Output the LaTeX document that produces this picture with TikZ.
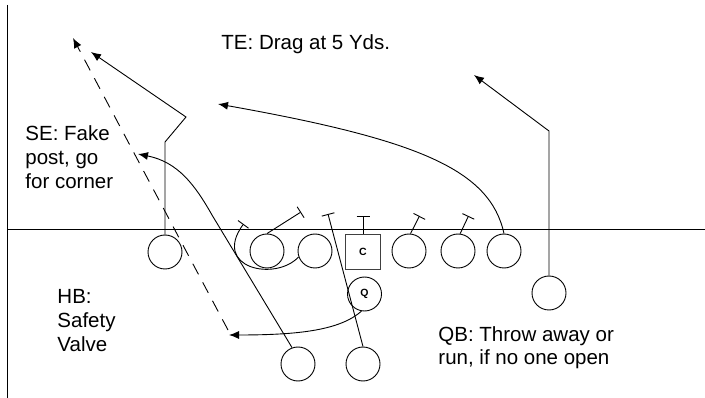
\documentclass[tikz,border=0pt]{standalone}
\usepackage{fontspec}
\setmainfont{Liberation Sans}
\usetikzlibrary{arrows.meta}
\begin{document}
\begin{tikzpicture}[x=1pt,y=-1pt,
  line width=0.9pt,
  player/.style={circle,draw,minimum size=34pt,inner sep=0pt},
  center/.style={rectangle,draw=black!75,minimum size=35pt,inner sep=0pt,font=\fontsize{10.5}{12}\selectfont\bfseries},
  qback/.style={circle,draw,minimum size=34pt,inner sep=0pt,font=\fontsize{10.5}{12}\selectfont\bfseries},
  label/.style={anchor=base west,inner sep=0pt,align=left,font=\fontsize{20.5}{24}\selectfont},
  route/.style={-{Latex[length=10pt,width=8pt]}},
  block/.style={-{Bar[width=13pt]}},
  pass/.style={route,dash pattern=on 12pt off 9pt}]
\useasboundingbox (0,0) rectangle (705,398);
% field lines
\draw (7,5) -- (7,398);
\draw (7,229) -- (705,229);
% players
\node[player] (p1) at (165,252) {};
\node[player] (p2) at (267,251) {};
\node[player] (p3) at (315,251) {};
\node[center] (c) at (363,252) {C};
\node[player] (p4) at (409,251) {};
\node[player] (p5) at (458,251) {};
\node[player] (p6) at (504,251) {};
\node[qback] (q) at (364.5,294) {Q};
\node[player] (b1) at (298,364) {};
\node[player] (b2) at (363,364) {};
\node[player] (fl) at (549,293) {};
% route end points
\coordinate (seA) at (165,142);
\coordinate (seB) at (186,117);
\coordinate (seT) at (91,52);
\coordinate (dS) at (228,330);
\coordinate (dT) at (73,38);
\coordinate (b1A) at (212,215);
\coordinate (b1T) at (138,154);
\coordinate (b2T) at (328,214);
\coordinate (teT) at (218,104);
\coordinate (flA) at (549,131);
\coordinate (flT) at (474,75);
\coordinate (qT) at (229,335);
\coordinate (p2T) at (301,212);
\coordinate (p3T) at (243.5,224);
\coordinate (cT) at (363,216);
\coordinate (p4T) at (419.5,216);
\coordinate (p5T) at (468.5,216);
% routes
\draw[route] (p1.north) -- (seA) -- (seB) -- (seT);
\draw[pass] (dS) -- (dT);
\draw[route] (b1.110) -- (b1A) .. controls (195,185) and (178,162) .. (b1T);
\draw[block] (b2.north) -- (b2T);
\draw[route] (p6.north) .. controls (490,170) and (420,140) .. (teT);
\draw[route] (fl.north) -- (flA) -- (flT);
\draw[route] (q.260) .. controls (340,330) and (300,335) .. (qT);
% blocks
\draw[block] (p2.north) -- (p2T);
\draw[block] (p3.200) .. controls (275,282) and (211.5,268) .. (p3T);
\draw[block] (c.north) -- (cT);
\draw[block] (p4.85) -- (p4T);
\draw[block] (p5.83) -- (p5T);
% labels (anchor = baseline of last line)
\node[label] (te) at (221,50) {TE: Drag at 5 Yds.};
\node[label] (se) at (25,189) {SE: Fake\\post, go\\for corner};
\node[label] (hb) at (57,352) {HB:\\Safety\\Valve};
\node[label,font=\fontsize{20.5}{23}\selectfont] (qb) at (438,365) {QB: Throw away or\\run, if no one open};
\end{tikzpicture}
\end{document}
